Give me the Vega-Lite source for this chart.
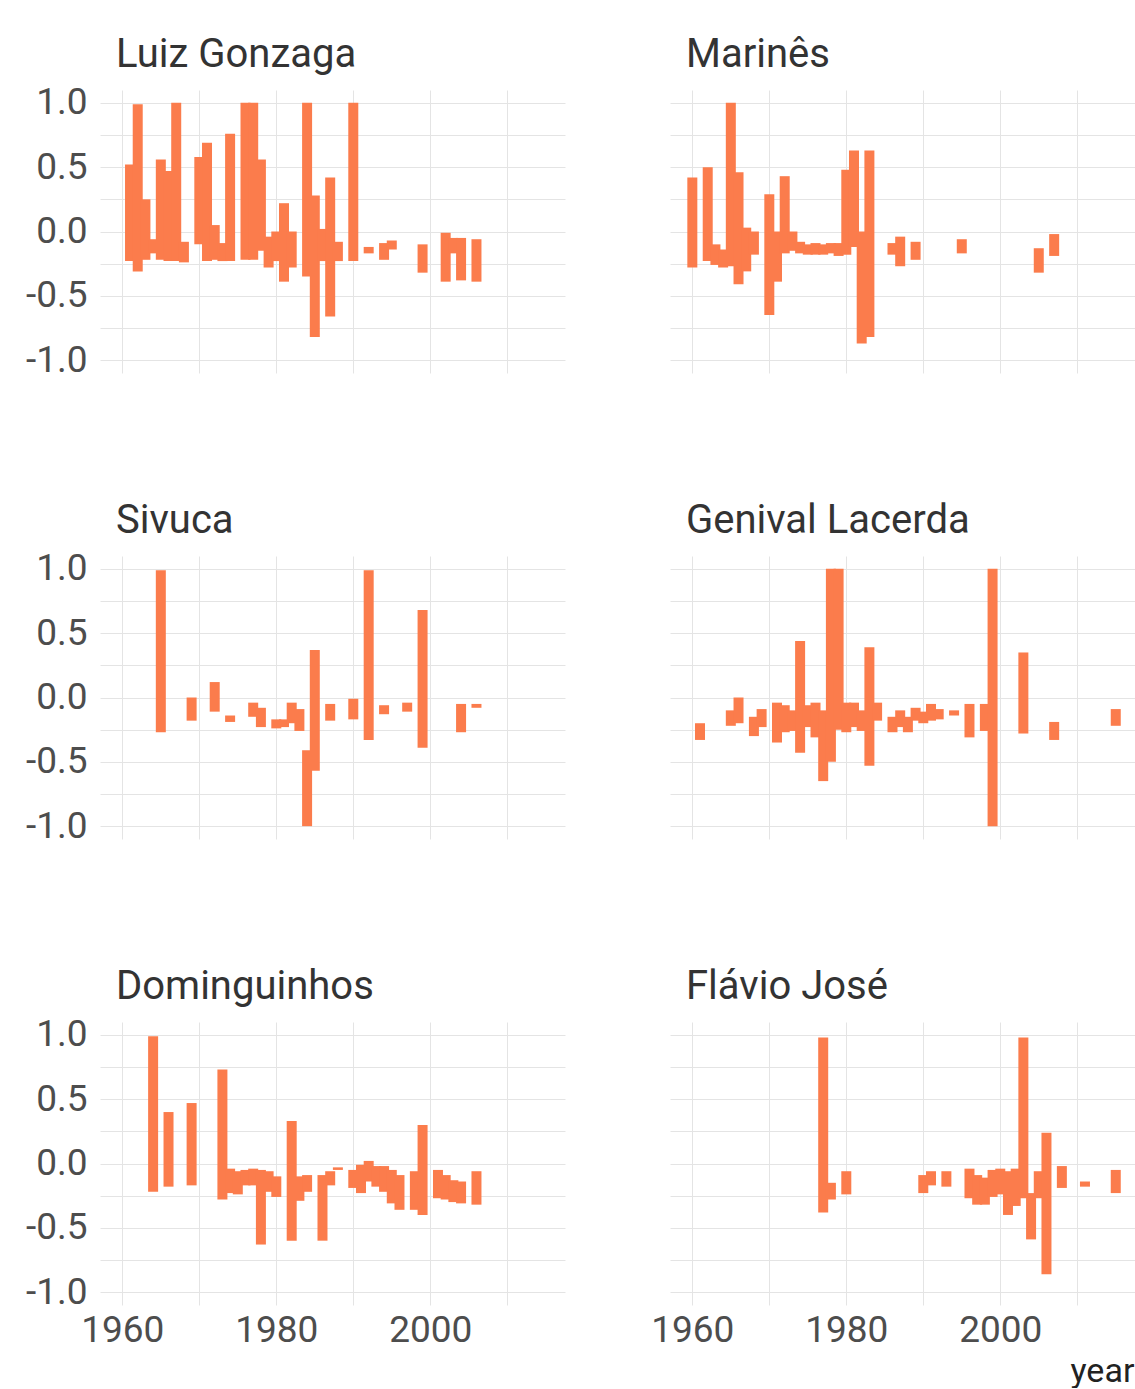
{
  "$schema": "https://vega.github.io/schema/vega-lite/v6.json",
  "padding": {"left": 25, "top": 34, "right": 0, "bottom": 0},
  "background": "white",
  "data": {"values": [
    {"artist": "Luiz Gonzaga", "year": 1961, "lo": -0.23, "hi": 0.52},
    {"artist": "Luiz Gonzaga", "year": 1962, "lo": -0.31, "hi": 0.99},
    {"artist": "Luiz Gonzaga", "year": 1963, "lo": -0.22, "hi": 0.25},
    {"artist": "Luiz Gonzaga", "year": 1964, "lo": -0.17, "hi": -0.06},
    {"artist": "Luiz Gonzaga", "year": 1965, "lo": -0.22, "hi": 0.56},
    {"artist": "Luiz Gonzaga", "year": 1966, "lo": -0.23, "hi": 0.47},
    {"artist": "Luiz Gonzaga", "year": 1967, "lo": -0.23, "hi": 1.0},
    {"artist": "Luiz Gonzaga", "year": 1968, "lo": -0.24, "hi": -0.08},
    {"artist": "Luiz Gonzaga", "year": 1970, "lo": -0.1, "hi": 0.58},
    {"artist": "Luiz Gonzaga", "year": 1971, "lo": -0.23, "hi": 0.69},
    {"artist": "Luiz Gonzaga", "year": 1972, "lo": -0.22, "hi": 0.05},
    {"artist": "Luiz Gonzaga", "year": 1973, "lo": -0.23, "hi": -0.09},
    {"artist": "Luiz Gonzaga", "year": 1974, "lo": -0.23, "hi": 0.76},
    {"artist": "Luiz Gonzaga", "year": 1976, "lo": -0.22, "hi": 1.0},
    {"artist": "Luiz Gonzaga", "year": 1977, "lo": -0.22, "hi": 1.0},
    {"artist": "Luiz Gonzaga", "year": 1978, "lo": -0.15, "hi": 0.56},
    {"artist": "Luiz Gonzaga", "year": 1979, "lo": -0.28, "hi": -0.04},
    {"artist": "Luiz Gonzaga", "year": 1980, "lo": -0.23, "hi": 0.0},
    {"artist": "Luiz Gonzaga", "year": 1981, "lo": -0.39, "hi": 0.22},
    {"artist": "Luiz Gonzaga", "year": 1982, "lo": -0.28, "hi": 0.0},
    {"artist": "Luiz Gonzaga", "year": 1984, "lo": -0.35, "hi": 1.0},
    {"artist": "Luiz Gonzaga", "year": 1985, "lo": -0.82, "hi": 0.28},
    {"artist": "Luiz Gonzaga", "year": 1986, "lo": -0.23, "hi": 0.02},
    {"artist": "Luiz Gonzaga", "year": 1987, "lo": -0.66, "hi": 0.42},
    {"artist": "Luiz Gonzaga", "year": 1988, "lo": -0.23, "hi": -0.08},
    {"artist": "Luiz Gonzaga", "year": 1990, "lo": -0.23, "hi": 1.0},
    {"artist": "Luiz Gonzaga", "year": 1992, "lo": -0.17, "hi": -0.12},
    {"artist": "Luiz Gonzaga", "year": 1994, "lo": -0.22, "hi": -0.09},
    {"artist": "Luiz Gonzaga", "year": 1995, "lo": -0.14, "hi": -0.07},
    {"artist": "Luiz Gonzaga", "year": 1999, "lo": -0.32, "hi": -0.1},
    {"artist": "Luiz Gonzaga", "year": 2002, "lo": -0.39, "hi": -0.01},
    {"artist": "Luiz Gonzaga", "year": 2003, "lo": -0.17, "hi": -0.05},
    {"artist": "Luiz Gonzaga", "year": 2004, "lo": -0.38, "hi": -0.05},
    {"artist": "Luiz Gonzaga", "year": 2006, "lo": -0.39, "hi": -0.06},

    {"artist": "Marinês", "year": 1960, "lo": -0.28, "hi": 0.42},
    {"artist": "Marinês", "year": 1962, "lo": -0.23, "hi": 0.5},
    {"artist": "Marinês", "year": 1963, "lo": -0.26, "hi": -0.1},
    {"artist": "Marinês", "year": 1964, "lo": -0.28, "hi": -0.14},
    {"artist": "Marinês", "year": 1965, "lo": -0.27, "hi": 1.0},
    {"artist": "Marinês", "year": 1966, "lo": -0.41, "hi": 0.46},
    {"artist": "Marinês", "year": 1967, "lo": -0.31, "hi": 0.03},
    {"artist": "Marinês", "year": 1968, "lo": -0.18, "hi": 0.0},
    {"artist": "Marinês", "year": 1970, "lo": -0.65, "hi": 0.29},
    {"artist": "Marinês", "year": 1971, "lo": -0.39, "hi": 0.0},
    {"artist": "Marinês", "year": 1972, "lo": -0.17, "hi": 0.43},
    {"artist": "Marinês", "year": 1973, "lo": -0.15, "hi": 0.0},
    {"artist": "Marinês", "year": 1974, "lo": -0.17, "hi": -0.08},
    {"artist": "Marinês", "year": 1975, "lo": -0.18, "hi": -0.1},
    {"artist": "Marinês", "year": 1976, "lo": -0.18, "hi": -0.09},
    {"artist": "Marinês", "year": 1977, "lo": -0.18, "hi": -0.1},
    {"artist": "Marinês", "year": 1978, "lo": -0.17, "hi": -0.09},
    {"artist": "Marinês", "year": 1979, "lo": -0.19, "hi": -0.09},
    {"artist": "Marinês", "year": 1980, "lo": -0.18, "hi": 0.48},
    {"artist": "Marinês", "year": 1981, "lo": -0.12, "hi": 0.63},
    {"artist": "Marinês", "year": 1982, "lo": -0.87, "hi": 0.0},
    {"artist": "Marinês", "year": 1983, "lo": -0.82, "hi": 0.63},
    {"artist": "Marinês", "year": 1986, "lo": -0.18, "hi": -0.09},
    {"artist": "Marinês", "year": 1987, "lo": -0.27, "hi": -0.04},
    {"artist": "Marinês", "year": 1989, "lo": -0.22, "hi": -0.08},
    {"artist": "Marinês", "year": 1995, "lo": -0.17, "hi": -0.06},
    {"artist": "Marinês", "year": 2005, "lo": -0.32, "hi": -0.13},
    {"artist": "Marinês", "year": 2007, "lo": -0.19, "hi": -0.02},

    {"artist": "Sivuca", "year": 1965, "lo": -0.27, "hi": 0.99},
    {"artist": "Sivuca", "year": 1969, "lo": -0.18, "hi": 0.0},
    {"artist": "Sivuca", "year": 1972, "lo": -0.11, "hi": 0.12},
    {"artist": "Sivuca", "year": 1974, "lo": -0.19, "hi": -0.14},
    {"artist": "Sivuca", "year": 1977, "lo": -0.15, "hi": -0.04},
    {"artist": "Sivuca", "year": 1978, "lo": -0.23, "hi": -0.08},
    {"artist": "Sivuca", "year": 1980, "lo": -0.24, "hi": -0.17},
    {"artist": "Sivuca", "year": 1981, "lo": -0.23, "hi": -0.17},
    {"artist": "Sivuca", "year": 1982, "lo": -0.2, "hi": -0.04},
    {"artist": "Sivuca", "year": 1983, "lo": -0.26, "hi": -0.09},
    {"artist": "Sivuca", "year": 1984, "lo": -1.0, "hi": -0.41},
    {"artist": "Sivuca", "year": 1985, "lo": -0.57, "hi": 0.37},
    {"artist": "Sivuca", "year": 1987, "lo": -0.18, "hi": -0.05},
    {"artist": "Sivuca", "year": 1990, "lo": -0.17, "hi": -0.01},
    {"artist": "Sivuca", "year": 1992, "lo": -0.33, "hi": 0.99},
    {"artist": "Sivuca", "year": 1994, "lo": -0.13, "hi": -0.06},
    {"artist": "Sivuca", "year": 1997, "lo": -0.11, "hi": -0.04},
    {"artist": "Sivuca", "year": 1999, "lo": -0.39, "hi": 0.68},
    {"artist": "Sivuca", "year": 2004, "lo": -0.27, "hi": -0.05},
    {"artist": "Sivuca", "year": 2006, "lo": -0.08, "hi": -0.05},

    {"artist": "Genival Lacerda", "year": 1961, "lo": -0.33, "hi": -0.2},
    {"artist": "Genival Lacerda", "year": 1965, "lo": -0.22, "hi": -0.1},
    {"artist": "Genival Lacerda", "year": 1966, "lo": -0.2, "hi": 0.0},
    {"artist": "Genival Lacerda", "year": 1968, "lo": -0.3, "hi": -0.15},
    {"artist": "Genival Lacerda", "year": 1969, "lo": -0.23, "hi": -0.09},
    {"artist": "Genival Lacerda", "year": 1971, "lo": -0.35, "hi": -0.04},
    {"artist": "Genival Lacerda", "year": 1972, "lo": -0.27, "hi": -0.06},
    {"artist": "Genival Lacerda", "year": 1973, "lo": -0.26, "hi": -0.1},
    {"artist": "Genival Lacerda", "year": 1974, "lo": -0.43, "hi": 0.44},
    {"artist": "Genival Lacerda", "year": 1975, "lo": -0.23, "hi": -0.06},
    {"artist": "Genival Lacerda", "year": 1976, "lo": -0.31, "hi": -0.04},
    {"artist": "Genival Lacerda", "year": 1977, "lo": -0.65, "hi": -0.1},
    {"artist": "Genival Lacerda", "year": 1978, "lo": -0.5, "hi": 1.0},
    {"artist": "Genival Lacerda", "year": 1979, "lo": -0.25, "hi": 1.0},
    {"artist": "Genival Lacerda", "year": 1980, "lo": -0.27, "hi": -0.04},
    {"artist": "Genival Lacerda", "year": 1981, "lo": -0.23, "hi": -0.04},
    {"artist": "Genival Lacerda", "year": 1982, "lo": -0.26, "hi": -0.1},
    {"artist": "Genival Lacerda", "year": 1983, "lo": -0.53, "hi": 0.39},
    {"artist": "Genival Lacerda", "year": 1984, "lo": -0.18, "hi": -0.04},
    {"artist": "Genival Lacerda", "year": 1986, "lo": -0.27, "hi": -0.15},
    {"artist": "Genival Lacerda", "year": 1987, "lo": -0.23, "hi": -0.1},
    {"artist": "Genival Lacerda", "year": 1988, "lo": -0.27, "hi": -0.15},
    {"artist": "Genival Lacerda", "year": 1989, "lo": -0.18, "hi": -0.08},
    {"artist": "Genival Lacerda", "year": 1990, "lo": -0.2, "hi": -0.11},
    {"artist": "Genival Lacerda", "year": 1991, "lo": -0.18, "hi": -0.05},
    {"artist": "Genival Lacerda", "year": 1992, "lo": -0.17, "hi": -0.09},
    {"artist": "Genival Lacerda", "year": 1994, "lo": -0.14, "hi": -0.1},
    {"artist": "Genival Lacerda", "year": 1996, "lo": -0.31, "hi": -0.05},
    {"artist": "Genival Lacerda", "year": 1998, "lo": -0.26, "hi": -0.05},
    {"artist": "Genival Lacerda", "year": 1999, "lo": -1.0, "hi": 1.0},
    {"artist": "Genival Lacerda", "year": 2003, "lo": -0.28, "hi": 0.35},
    {"artist": "Genival Lacerda", "year": 2007, "lo": -0.33, "hi": -0.19},
    {"artist": "Genival Lacerda", "year": 2015, "lo": -0.22, "hi": -0.09},

    {"artist": "Dominguinhos", "year": 1964, "lo": -0.22, "hi": 0.99},
    {"artist": "Dominguinhos", "year": 1966, "lo": -0.18, "hi": 0.4},
    {"artist": "Dominguinhos", "year": 1969, "lo": -0.17, "hi": 0.47},
    {"artist": "Dominguinhos", "year": 1973, "lo": -0.28, "hi": 0.73},
    {"artist": "Dominguinhos", "year": 1974, "lo": -0.23, "hi": -0.04},
    {"artist": "Dominguinhos", "year": 1975, "lo": -0.24, "hi": -0.06},
    {"artist": "Dominguinhos", "year": 1976, "lo": -0.17, "hi": -0.05},
    {"artist": "Dominguinhos", "year": 1977, "lo": -0.17, "hi": -0.04},
    {"artist": "Dominguinhos", "year": 1978, "lo": -0.63, "hi": -0.05},
    {"artist": "Dominguinhos", "year": 1979, "lo": -0.22, "hi": -0.06},
    {"artist": "Dominguinhos", "year": 1980, "lo": -0.26, "hi": -0.1},
    {"artist": "Dominguinhos", "year": 1982, "lo": -0.6, "hi": 0.33},
    {"artist": "Dominguinhos", "year": 1983, "lo": -0.29, "hi": -0.1},
    {"artist": "Dominguinhos", "year": 1984, "lo": -0.22, "hi": -0.09},
    {"artist": "Dominguinhos", "year": 1986, "lo": -0.6, "hi": -0.09},
    {"artist": "Dominguinhos", "year": 1987, "lo": -0.17, "hi": -0.06},
    {"artist": "Dominguinhos", "year": 1988, "lo": -0.05, "hi": -0.03},
    {"artist": "Dominguinhos", "year": 1990, "lo": -0.19, "hi": -0.05},
    {"artist": "Dominguinhos", "year": 1991, "lo": -0.23, "hi": -0.01},
    {"artist": "Dominguinhos", "year": 1992, "lo": -0.14, "hi": 0.02},
    {"artist": "Dominguinhos", "year": 1993, "lo": -0.18, "hi": -0.02},
    {"artist": "Dominguinhos", "year": 1994, "lo": -0.22, "hi": -0.02},
    {"artist": "Dominguinhos", "year": 1995, "lo": -0.31, "hi": -0.05},
    {"artist": "Dominguinhos", "year": 1996, "lo": -0.36, "hi": -0.09},
    {"artist": "Dominguinhos", "year": 1998, "lo": -0.36, "hi": -0.06},
    {"artist": "Dominguinhos", "year": 1999, "lo": -0.4, "hi": 0.3},
    {"artist": "Dominguinhos", "year": 2001, "lo": -0.27, "hi": -0.05},
    {"artist": "Dominguinhos", "year": 2002, "lo": -0.28, "hi": -0.09},
    {"artist": "Dominguinhos", "year": 2003, "lo": -0.3, "hi": -0.13},
    {"artist": "Dominguinhos", "year": 2004, "lo": -0.31, "hi": -0.14},
    {"artist": "Dominguinhos", "year": 2006, "lo": -0.32, "hi": -0.06},

    {"artist": "Flávio José", "year": 1977, "lo": -0.38, "hi": 0.98},
    {"artist": "Flávio José", "year": 1978, "lo": -0.28, "hi": -0.15},
    {"artist": "Flávio José", "year": 1980, "lo": -0.24, "hi": -0.06},
    {"artist": "Flávio José", "year": 1990, "lo": -0.23, "hi": -0.09},
    {"artist": "Flávio José", "year": 1991, "lo": -0.17, "hi": -0.06},
    {"artist": "Flávio José", "year": 1993, "lo": -0.18, "hi": -0.06},
    {"artist": "Flávio José", "year": 1996, "lo": -0.27, "hi": -0.04},
    {"artist": "Flávio José", "year": 1997, "lo": -0.32, "hi": -0.09},
    {"artist": "Flávio José", "year": 1998, "lo": -0.32, "hi": -0.11},
    {"artist": "Flávio José", "year": 1999, "lo": -0.26, "hi": -0.05},
    {"artist": "Flávio José", "year": 2000, "lo": -0.24, "hi": -0.04},
    {"artist": "Flávio José", "year": 2001, "lo": -0.4, "hi": -0.06},
    {"artist": "Flávio José", "year": 2002, "lo": -0.33, "hi": -0.04},
    {"artist": "Flávio José", "year": 2003, "lo": -0.27, "hi": 0.98},
    {"artist": "Flávio José", "year": 2004, "lo": -0.59, "hi": -0.23},
    {"artist": "Flávio José", "year": 2005, "lo": -0.27, "hi": -0.06},
    {"artist": "Flávio José", "year": 2006, "lo": -0.86, "hi": 0.24},
    {"artist": "Flávio José", "year": 2008, "lo": -0.19, "hi": -0.02},
    {"artist": "Flávio José", "year": 2011, "lo": -0.18, "hi": -0.14},
    {"artist": "Flávio José", "year": 2015, "lo": -0.23, "hi": -0.05}
  ]},
  "columns": 2,
  "bounds": "flush",
  "spacing": {"row": 183, "column": 105},
  "concat": [
    {
      "title": {"text": "Luiz Gonzaga", "offset": 9},
      "width": 465, "height": 283,
      "transform": [{"filter": {"field": "artist", "equal": "Luiz Gonzaga"}}],
      "mark": {"type": "rule", "strokeWidth": 10, "color": "#FB7C4C"},
      "encoding": {
        "x": {"field": "year", "type": "quantitative", "scale": {"domain": [1957.1, 2017.5], "nice": false, "zero": false}, "axis": {"labels": false, "title": null, "values": [1960, 1970, 1980, 1990, 2000, 2010]}},
        "y": {"field": "lo", "type": "quantitative", "scale": {"domain": [-1.1, 1.1], "nice": false}, "axis": {"title": null, "values": [-1, -0.75, -0.5, -0.25, 0, 0.25, 0.5, 0.75, 1]}},
        "y2": {"field": "hi"}
      }
    },
    {
      "title": {"text": "Marinês", "offset": 15},
      "width": 465, "height": 283,
      "transform": [{"filter": {"field": "artist", "equal": "Marinês"}}],
      "mark": {"type": "rule", "strokeWidth": 10, "color": "#FB7C4C"},
      "encoding": {
        "x": {"field": "year", "type": "quantitative", "scale": {"domain": [1957.1, 2017.5], "nice": false, "zero": false}, "axis": {"labels": false, "title": null, "values": [1960, 1970, 1980, 1990, 2000, 2010]}},
        "y": {"field": "lo", "type": "quantitative", "scale": {"domain": [-1.1, 1.1], "nice": false}, "axis": {"labels": false, "title": null, "values": [-1, -0.75, -0.5, -0.25, 0, 0.25, 0.5, 0.75, 1]}},
        "y2": {"field": "hi"}
      }
    },
    {
      "title": {"text": "Sivuca", "offset": 9},
      "width": 465, "height": 283,
      "transform": [{"filter": {"field": "artist", "equal": "Sivuca"}}],
      "mark": {"type": "rule", "strokeWidth": 10, "color": "#FB7C4C"},
      "encoding": {
        "x": {"field": "year", "type": "quantitative", "scale": {"domain": [1957.1, 2017.5], "nice": false, "zero": false}, "axis": {"labels": false, "title": null, "values": [1960, 1970, 1980, 1990, 2000, 2010]}},
        "y": {"field": "lo", "type": "quantitative", "scale": {"domain": [-1.1, 1.1], "nice": false}, "axis": {"title": null, "values": [-1, -0.75, -0.5, -0.25, 0, 0.25, 0.5, 0.75, 1]}},
        "y2": {"field": "hi"}
      }
    },
    {
      "title": {"text": "Genival Lacerda", "offset": 15},
      "width": 465, "height": 283,
      "transform": [{"filter": {"field": "artist", "equal": "Genival Lacerda"}}],
      "mark": {"type": "rule", "strokeWidth": 10, "color": "#FB7C4C"},
      "encoding": {
        "x": {"field": "year", "type": "quantitative", "scale": {"domain": [1957.1, 2017.5], "nice": false, "zero": false}, "axis": {"labels": false, "title": null, "values": [1960, 1970, 1980, 1990, 2000, 2010]}},
        "y": {"field": "lo", "type": "quantitative", "scale": {"domain": [-1.1, 1.1], "nice": false}, "axis": {"labels": false, "title": null, "values": [-1, -0.75, -0.5, -0.25, 0, 0.25, 0.5, 0.75, 1]}},
        "y2": {"field": "hi"}
      }
    },
    {
      "title": {"text": "Dominguinhos", "offset": 9},
      "width": 465, "height": 283,
      "transform": [{"filter": {"field": "artist", "equal": "Dominguinhos"}}],
      "mark": {"type": "rule", "strokeWidth": 10, "color": "#FB7C4C"},
      "encoding": {
        "x": {"field": "year", "type": "quantitative", "scale": {"domain": [1957.1, 2017.5], "nice": false, "zero": false}, "axis": {"title": null, "values": [1960, 1970, 1980, 1990, 2000, 2010]}},
        "y": {"field": "lo", "type": "quantitative", "scale": {"domain": [-1.1, 1.1], "nice": false}, "axis": {"title": null, "values": [-1, -0.75, -0.5, -0.25, 0, 0.25, 0.5, 0.75, 1]}},
        "y2": {"field": "hi"}
      }
    },
    {
      "title": {"text": "Flávio José", "offset": 15},
      "width": 465, "height": 283,
      "transform": [{"filter": {"field": "artist", "equal": "Flávio José"}}],
      "mark": {"type": "rule", "strokeWidth": 10, "color": "#FB7C4C"},
      "encoding": {
        "x": {"field": "year", "type": "quantitative", "scale": {"domain": [1957.1, 2017.5], "nice": false, "zero": false}, "axis": {"title": "year", "titleX": 400, "titleY": 76, "titleAlign": "left", "titleBaseline": "alphabetic", "values": [1960, 1970, 1980, 1990, 2000, 2010]}},
        "y": {"field": "lo", "type": "quantitative", "scale": {"domain": [-1.1, 1.1], "nice": false}, "axis": {"labels": false, "title": null, "values": [-1, -0.75, -0.5, -0.25, 0, 0.25, 0.5, 0.75, 1]}},
        "y2": {"field": "hi"}
      }
    }
  ],
  "config": {
    "view": {"stroke": null},
    "font": "Roboto",
    "title": {"font": "Roboto", "fontSize": 40, "fontWeight": "normal", "color": "#333333", "anchor": "start", "frame": "group", "dx": 16, "baseline": "alphabetic"},
    "axis": {
      "ticks": false, "domain": false, "grid": true, "gridColor": "#e4e4e4", "gridWidth": 1,
      "labelFont": "Roboto", "labelFontSize": 37, "labelColor": "#4d4d4d",
      "labelOverlap": false, "labelFlush": false, "labelBound": false,
      "titleFont": "Roboto", "titleFontSize": 34, "titleFontWeight": "normal", "titleColor": "#222222"
    },
    "axisX": {
      "labelExpr": "datum.value % 20 == 0 ? '' + datum.value : ''",
      "labelPadding": 7
    },
    "axisY": {
      "labelExpr": "abs(datum.value % 0.5) < 0.001 ? (datum.value < 0 ? '-' : '') + format(abs(datum.value), '.1f') : ''",
      "labelPadding": 13
    }
  }
}
